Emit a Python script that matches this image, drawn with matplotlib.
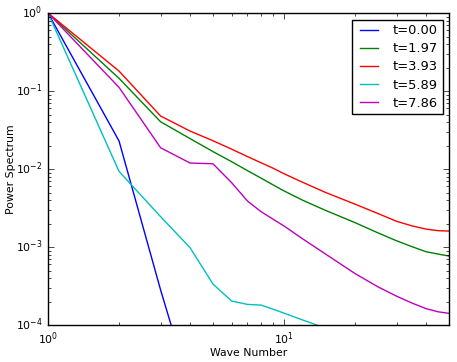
import matplotlib
matplotlib.use("Agg")
import matplotlib.pyplot as plt

plt.style.use("classic")

# wave numbers at which values were read
k_blue = [1, 2, 3, 4, 5]
k_cyan = [1, 2, 3, 4, 5, 6, 7, 8, 9, 10, 12, 15]
k_full = [1, 2, 3, 4, 5, 6, 7, 8, 9, 10, 12, 15, 20, 25, 30, 35, 40, 45, 50]

# log10 of the power spectrum
blue_log = [0.0, -1.64, -3.55, -4.81, -5.9]
green_log = [0.0, -0.837, -1.394, -1.61, -1.776, -1.906, -2.02, -2.117, -2.204,
             -2.28, -2.40, -2.53, -2.687, -2.818, -2.92, -2.997, -3.06, -3.09, -3.115]
red_log = [0.0, -0.744, -1.32, -1.513, -1.637, -1.745, -1.84, -1.92, -1.99,
           -2.06, -2.17, -2.30, -2.45, -2.57, -2.67, -2.73, -2.77, -2.79, -2.795]
cyan_log = [0.0, -2.03, -2.61, -3.009, -3.474, -3.692, -3.735, -3.744, -3.797,
            -3.847, -3.935, -4.04]
magenta_log = [0.0, -0.953, -1.727, -1.923, -1.932, -2.175, -2.41, -2.547, -2.644,
               -2.73, -2.895, -3.09, -3.34, -3.51, -3.63, -3.72, -3.79, -3.83, -3.85]

labels = ["t=0.00", "t=1.97", "t=3.93", "t=5.89", "t=7.86"]

plt.rcParams["font.size"] = 7.8
plt.rcParams["font.family"] = ["DejaVu Sans"]

fig = plt.figure(figsize=(4.57, 3.62), dpi=100, facecolor="white")
ax = fig.add_axes([0.105, 0.102, 0.8775, 0.862])

series = [(k_blue, blue_log, "b"), (k_full, green_log, "g"), (k_full, red_log, "r"),
          (k_cyan, cyan_log, "c"), (k_full, magenta_log, "m")]
for (k, vals, c), lab in zip(series, labels):
    ax.loglog(k, [10 ** v for v in vals], color=c, lw=1.0, label=lab)

ax.set_xlim(1, 50)
ax.set_ylim(1e-4, 1)
ax.set_xlabel("Wave Number", labelpad=0.8)
ax.set_ylabel("Power Spectrum", labelpad=0)
ax.legend(loc="upper right", labelspacing=0.4, borderpad=0.35)

fig.savefig("out.png", dpi=100, facecolor="white")
